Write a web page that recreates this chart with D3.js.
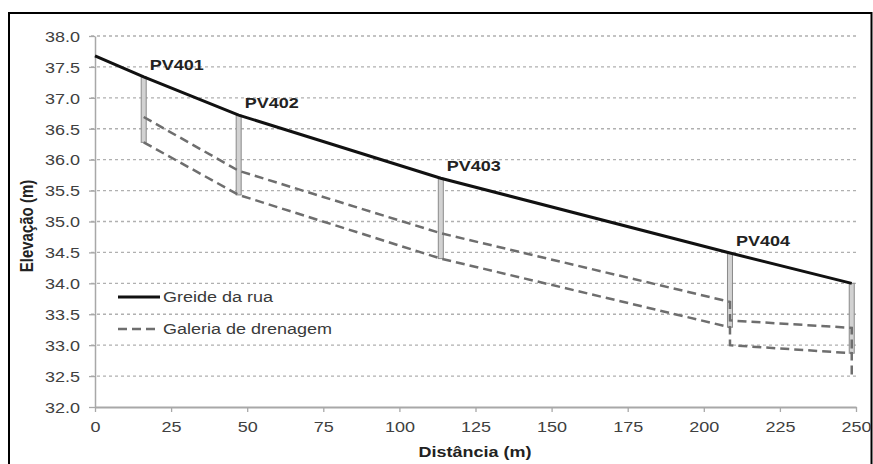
<!DOCTYPE html>
<html><head><meta charset="utf-8">
<script src="https://cdn.jsdelivr.net/npm/d3@7"></script>
<style>body{margin:0;background:#fff}svg{display:block}text{font-family:"Liberation Sans",Arial,sans-serif}</style>
</head><body>
<script>
// ---- data ----
const yTicks = [32.0,32.5,33.0,33.5,34.0,34.5,35.0,35.5,36.0,36.5,37.0,37.5,38.0];
const xTicks = [0,25,50,75,100,125,150,175,200,225,250];
const greideDist = [0,16,47.2,113.6,208.6,248.6];
const greideElev = [37.68,37.34,36.72,35.70,34.49,34.00];
const galUpperDist = [16,47.2,113.6,208.6,208.6,248.6,248.6];
const galUpperElev = [36.69,35.82,34.81,33.70,33.40,33.28,32.87];
const galLowerDist = [16,47.2,113.6,208.6,208.6,248.6,248.6];
const galLowerElev = [36.28,35.43,34.40,33.29,33.00,32.87,32.50];
const pvNames = ["PV401","PV402","PV403","PV404",""];
const pvDist = [16,47.2,113.6,208.6,248.6];
const pvTop = [37.34,36.72,35.70,34.49,34.00];
const pvBottom = [36.28,35.43,34.40,33.29,32.87];
const legendLabels = ["Greide da rua","Galeria de drenagem"];

const W=873,H=464;
const svg=d3.select("body").append("svg").attr("width",W).attr("height",H);
const x=d3.scaleLinear().domain([0,250]).range([95,856]);
const y=d3.scaleLinear().domain([32,38]).range([407,36]);
const SX=1.2, FS=15;

// frame
svg.append("rect").attr("x",9).attr("y",13).attr("width",862.5).attr("height",480)
  .attr("fill","none").attr("stroke","#000").attr("stroke-width",2);

// grid
svg.append("g").selectAll("line").data(yTicks.filter(v=>v>32)).join("line")
  .attr("x1",x(0)-4).attr("x2",x(250)).attr("y1",d=>y(d)).attr("y2",d=>y(d))
  .attr("stroke","#b0b0b0").attr("stroke-width",1.3).attr("stroke-dasharray","3,3");

// axes
const gy=svg.append("g").attr("transform",`translate(${x(0)},0)`)
  .call(d3.axisLeft(y).tickValues(yTicks).tickFormat(d3.format(".1f")).tickSize(6).tickSizeOuter(0));
gy.select(".domain").attr("stroke","#a8a8a8").attr("stroke-width",1.5);
gy.selectAll(".tick line").attr("stroke","#a8a8a8").attr("stroke-width",1.3);
gy.selectAll("text").attr("x",-12.5).attr("dy","0.35em").attr("transform",`scale(${SX},1)`)
  .attr("font-size",FS).attr("fill","#404040").attr("font-family","Liberation Sans, Arial, sans-serif");

const gx=svg.append("g").attr("transform",`translate(0,${y(32)})`)
  .call(d3.axisBottom(x).tickValues(xTicks).tickSize(5).tickSizeOuter(0));
gx.select(".domain").attr("stroke","#a8a8a8").attr("stroke-width",1.8);
gx.selectAll(".tick line").attr("stroke","#a8a8a8").attr("stroke-width",1.3);
gx.selectAll("text").attr("y",25).attr("dy",0).attr("transform",`scale(${SX},1)`)
  .attr("font-size",FS).attr("fill","#404040").attr("font-family","Liberation Sans, Arial, sans-serif");

// PV boxes
svg.append("g").selectAll("rect").data(pvDist).join("rect")
  .attr("x",d=>x(d)-2.5).attr("width",5)
  .attr("y",(d,i)=>y(pvTop[i])).attr("height",(d,i)=>y(pvBottom[i])-y(pvTop[i]))
  .attr("fill","#d2d2d2").attr("stroke","#8a8a8a").attr("stroke-width",1);

// galeria lines
const line=d3.line().x(d=>x(d[0])).y(d=>y(d[1]));
[[galUpperDist,galUpperElev],[galLowerDist,galLowerElev]].forEach(([ds,es])=>{
  svg.append("path").datum(ds.map((d,i)=>[d,es[i]])).attr("d",line)
    .attr("fill","none").attr("stroke","#6e6e6e").attr("stroke-width",2.5).attr("stroke-dasharray","9,5");
});
// greide
svg.append("path").datum(greideDist.map((d,i)=>[d,greideElev[i]])).attr("d",line)
  .attr("fill","none").attr("stroke","#111").attr("stroke-width",3);

// PV labels
svg.append("g").selectAll("text").data(pvNames).join("text")
  .attr("transform",(d,i)=>`translate(${x(pvDist[i])+6},${y(pvTop[i])-7}) scale(${SX},1)`)
  .attr("font-size",FS).attr("font-weight","bold").attr("fill","#222").text(d=>d);

// legend
const lg=svg.append("g");
lg.append("line").attr("x1",118).attr("x2",160).attr("y1",297).attr("y2",297)
  .attr("stroke","#111").attr("stroke-width",3);
lg.append("line").attr("x1",118).attr("x2",160).attr("y1",329).attr("y2",329)
  .attr("stroke","#6e6e6e").attr("stroke-width",2.5).attr("stroke-dasharray","9,5");
lg.selectAll("text").data(legendLabels).join("text")
  .attr("transform",(d,i)=>`translate(163,${302+i*32}) scale(${SX},1)`)
  .attr("font-size",FS).attr("fill","#3a3a3a").text(d=>d);

// axis titles
svg.append("text").attr("transform",`translate(475,457) scale(${SX},1)`).attr("text-anchor","middle")
  .attr("font-size",FS).attr("font-weight","bold").attr("fill","#222").text("Distância (m)");
svg.append("text").attr("transform",`translate(33,226) scale(${SX},1) rotate(-90)`).attr("text-anchor","middle")
  .attr("font-size",FS).attr("font-weight","bold").attr("fill","#222").text("Elevação (m)");
</script>
</body></html>
